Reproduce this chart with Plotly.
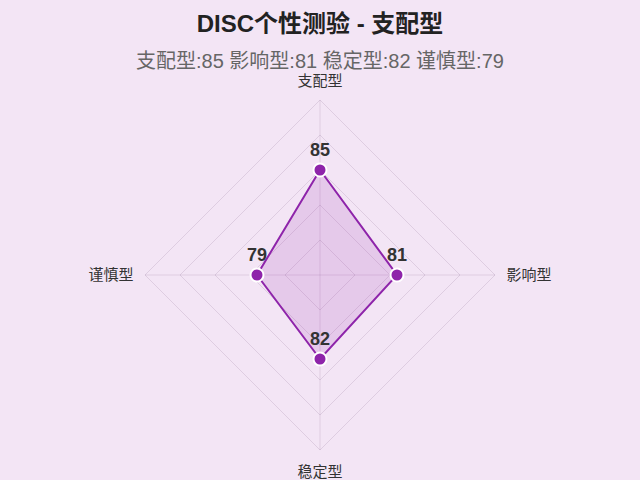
import plotly.graph_objects as go

categories = ["支配型", "影响型", "稳定型", "谨慎型"]
scores = [85, 81, 82, 79]

subtitle = " ".join(f"{c}:{v}" for c, v in zip(categories, scores))
grid_color = "rgba(120, 90, 130, 0.17)"

fig = go.Figure()
fig.add_trace(go.Scatterpolar(
    r=scores + scores[:1],
    theta=categories + categories[:1],
    mode="lines",
    fill="toself",
    fillcolor="rgba(156, 39, 176, 0.15)",
    line=dict(color="#8E24AA", width=2),
    hoverinfo="skip",
    showlegend=False,
))
fig.add_trace(go.Scatterpolar(
    r=scores,
    theta=categories,
    mode="markers+text",
    text=[f"<b>{v}</b>" for v in scores],
    textposition="top center",
    textfont=dict(size=18, color="#333333", family="Liberation Sans, Arial"),
    marker=dict(size=13, color="#8E24AA", line=dict(color="white", width=2)),
    showlegend=False,
))

fig.update_layout(
    width=640, height=480,
    paper_bgcolor="#F3E5F5",
    plot_bgcolor="#F3E5F5",
    margin=dict(l=40, r=40, t=100, b=30),
    font=dict(family="Liberation Sans, Noto Sans CJK SC", color="#333333"),
    title=dict(
        text="<b>DISC个性测验 - 支配型</b>",
        x=0.5, xanchor="center", y=1 - 24 / 480, yanchor="middle",
        font=dict(size=24, color="#222222", family="Liberation Sans, Noto Sans CJK SC"),
    ),
    annotations=[dict(
        text=subtitle, x=0.5, xref="paper", xanchor="center",
        y=1 + (100 - 61) / 350, yref="paper", yanchor="middle", showarrow=False,
        font=dict(size=20, color="#666666", family="Liberation Sans, Noto Sans CJK SC"),
    )],
    polar=dict(
        bgcolor="rgba(0,0,0,0)",
        gridshape="linear",
        radialaxis=dict(
            range=[70, 95], dtick=5, showticklabels=False, ticks="",
            gridcolor=grid_color, gridwidth=1,
            showline=False,
        ),
        angularaxis=dict(
            rotation=90, direction="clockwise",
            gridcolor=grid_color, gridwidth=1,
            linecolor=grid_color, linewidth=1, showline=True,
            tickfont=dict(size=15, color="#333333"),
            ticks="outside", ticklen=8, tickcolor="rgba(0,0,0,0)",
        ),
    ),
)

fig.write_html("out.html", config={"displayModeBar": False},
               post_script="document.body.style.margin='0';")
